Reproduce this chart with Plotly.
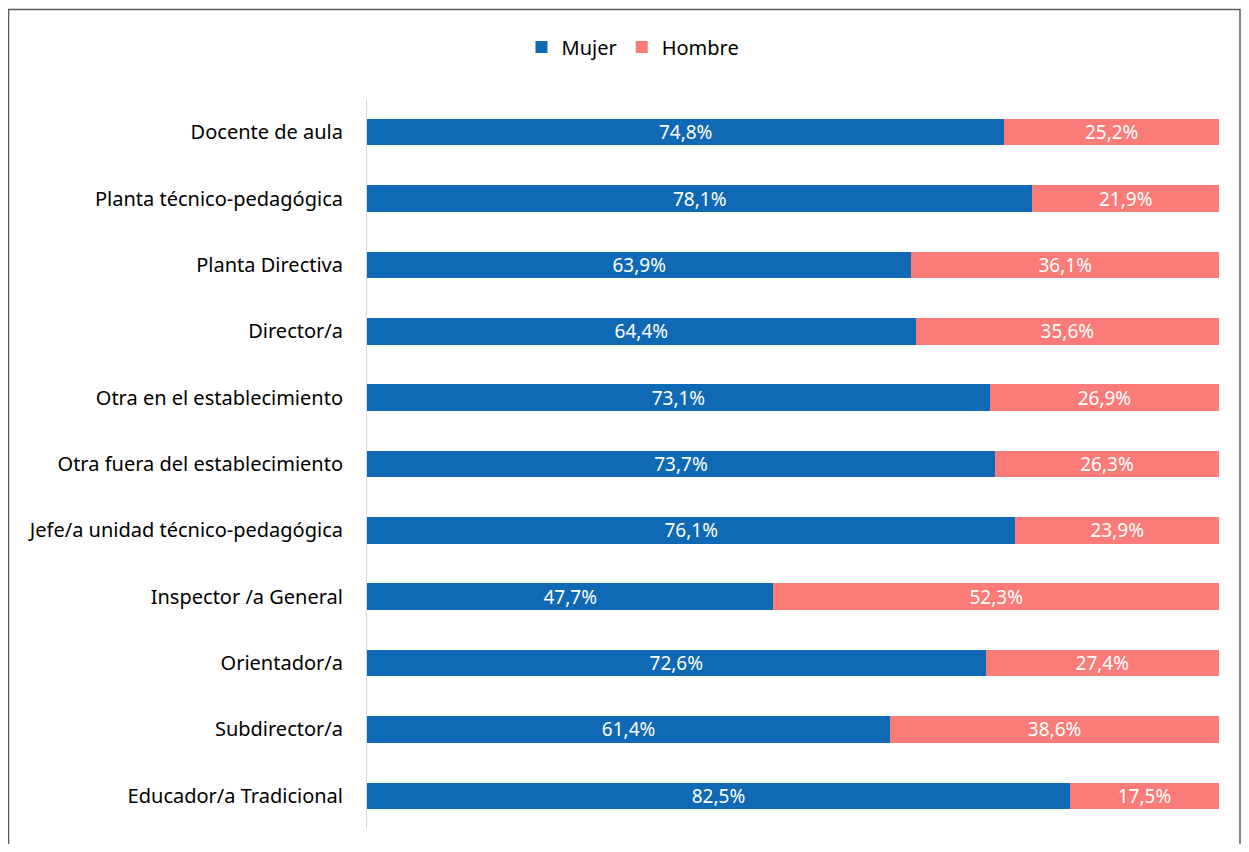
import plotly.graph_objects as go

categories = [
    "Docente de aula",
    "Planta técnico-pedagógica",
    "Planta Directiva",
    "Director/a",
    "Otra en el establecimiento",
    "Otra fuera del establecimiento",
    "Jefe/a unidad técnico-pedagógica",
    "Inspector /a General",
    "Orientador/a",
    "Subdirector/a",
    "Educador/a Tradicional",
]
mujer = [74.8, 78.1, 63.9, 64.4, 73.1, 73.7, 76.1, 47.7, 72.6, 61.4, 82.5]
hombre = [25.2, 21.9, 36.1, 35.6, 26.9, 26.3, 23.9, 52.3, 27.4, 38.6, 17.5]


def fmt(v):
    return f"{v:.1f}%".replace(".", ",")


# page is offset by the 8px body margin
OFF = 8
W, H = 1233, 836
ml, mr, mt, mb = 367 - OFF, W - (1219 - OFF), 99 - OFF, H - (829 - OFF)
pw, ph = W - ml - mr, H - mt - mb


def px(x):
    return (x - OFF - ml) / pw


def py(y):
    return 1 - (y - OFF - mt) / ph


FONT = "Noto Sans"

fig = go.Figure()
fig.add_trace(go.Bar(
    y=categories, x=mujer, orientation="h", name="Mujer",
    marker=dict(color="#0F69B4", line=dict(width=0)),
    text=[fmt(v) for v in mujer], textposition="inside",
    insidetextanchor="middle", constraintext="none",
    textfont=dict(color="white", size=19, family=FONT),
    width=0.4,
))
fig.add_trace(go.Bar(
    y=categories, x=hombre, orientation="h", name="Hombre",
    marker=dict(color="#FA7B77", line=dict(width=0)),
    text=[fmt(v) for v in hombre], textposition="inside",
    insidetextanchor="middle", constraintext="none",
    textfont=dict(color="white", size=19, family=FONT),
    width=0.4,
))

fig.update_layout(
    width=W, height=H,
    barmode="stack",
    margin=dict(l=ml, r=mr, t=mt, b=mb, autoexpand=False),
    paper_bgcolor="white", plot_bgcolor="white",
    font=dict(family=FONT, size=20, color="black"),
    showlegend=True,
    legend=dict(orientation="h", x=px(633), y=py(47), xanchor="center",
                yanchor="middle", font=dict(size=20, family=FONT),
                traceorder="normal", itemwidth=30),
    xaxis=dict(range=[0, 100], visible=False, fixedrange=True),
    yaxis=dict(categoryorder="array", categoryarray=categories,
               autorange="reversed", showline=True, linecolor="#D9D9D9",
               linewidth=1, ticks="", showgrid=False, ticklabelstandoff=19,
               tickfont=dict(size=20, family=FONT, color="black")),
    shapes=[dict(type="rect", xref="paper", yref="paper",
                 x0=px(8.5), x1=px(1240), y0=py(870), y1=py(9.5),
                 line=dict(color="#595959", width=1.5), fillcolor="rgba(0,0,0,0)",
                 layer="below")],
)

fig.write_html("out.html")
